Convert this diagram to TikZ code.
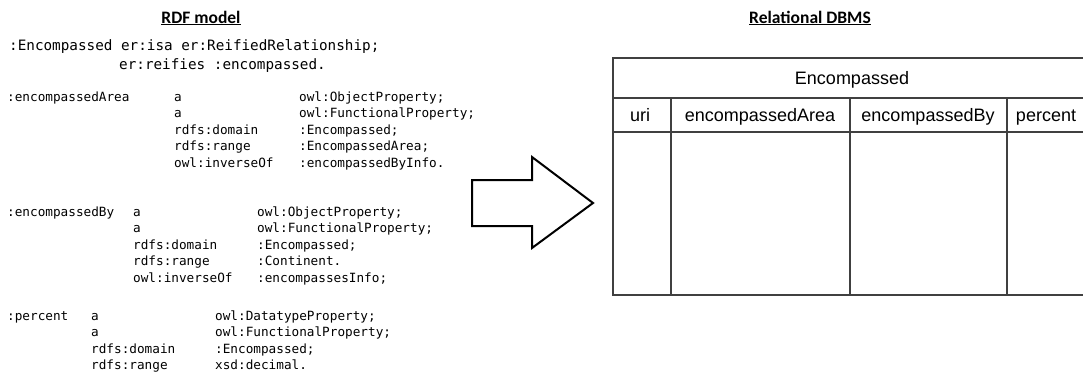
\documentclass[tikz,border=0pt]{standalone}
\usepackage{fontspec}
\setmainfont{Liberation Sans}
\newfontfamily\codefont{DejaVu Sans Mono}
\newfontfamily\headfont{Carlito}
\begin{document}
\begin{tikzpicture}[x=1pt,y=1pt]
\tikzstyle{every node}+=[inner sep=0pt]
\tikzstyle{heading}=[anchor=base, font=\headfont\bfseries\fontsize{17.5}{20}\selectfont]
\tikzstyle{code}=[anchor=base west, font=\codefont\fontsize{12.7}{15}\selectfont]
\tikzstyle{bigcode}=[anchor=base west, font=\codefont\fontsize{14.3}{17}\selectfont]
\tikzstyle{cell}=[anchor=base, font=\fontsize{18}{20}\selectfont]
\tikzstyle{grid}=[draw=black!75, line width=1.3pt]
\useasboundingbox (0,0) rectangle (1083,-372);
\node [heading] (rdfhead) at (201,-23) {\underline{RDF model}};
\node [heading] (dbhead) at (810,-23) {\underline{Relational DBMS}};
\node [bigcode] (reified) at (9,-50) {:Encompassed er:isa er:ReifiedRelationship;};
\node [bigcode] (reifies) at (119,-69) {er:reifies :encompassed.};
\node [code] (area) at (7,-101) {:encompassedArea};
\foreach \p/\o [count=\i] in {a/owl:ObjectProperty;, a/owl:FunctionalProperty;, rdfs:domain/:Encompassed;, rdfs:range/:EncompassedArea;, owl:inverseOf/:encompassedByInfo.}
{
\node [code] (areap\i) at (174,{-101-16.5*(\i-1)}) {\p};
\node [code] (areao\i) at (299,{-101-16.5*(\i-1)}) {\o};
}
\node [code] (by) at (7,-216) {:encompassedBy};
\foreach \p/\o [count=\i] in {a/owl:ObjectProperty;, a/owl:FunctionalProperty;, rdfs:domain/:Encompassed;, rdfs:range/:Continent., owl:inverseOf/:encompassesInfo;}
{
\node [code] (byp\i) at (133,{-216-16.5*(\i-1)}) {\p};
\node [code] (byo\i) at (257,{-216-16.5*(\i-1)}) {\o};
}
\node [code] (pct) at (7,-320) {:percent};
\foreach \p/\o [count=\i] in {a/owl:DatatypeProperty;, a/owl:FunctionalProperty;, rdfs:domain/:Encompassed;, rdfs:range/xsd:decimal.}
{
\node [code] (pctp\i) at (91,{-320-16.5*(\i-1)}) {\p};
\node [code] (pcto\i) at (215,{-320-16.5*(\i-1)}) {\o};
}
\draw [black, line width=2pt, line join=miter] (472,-180) -- (532,-180) -- (532,-157) -- (593,-203) -- (532,-248) -- (532,-226) -- (472,-226) -- cycle;
\draw [grid] (1090,-58) -- (613,-58) -- (613,-295) -- (1090,-295);
\draw [grid] (613,-98) -- (1090,-98);
\draw [grid] (613,-132) -- (1090,-132);
\draw [grid] (671,-98) -- (671,-295);
\draw [grid] (850,-98) -- (850,-295);
\draw [grid] (1007,-98) -- (1007,-295);
\node [cell] (enctitle) at (852,-84) {Encompassed};
\node [cell] (uri) at (640,-121) {uri};
\node [cell] (areacol) at (760,-121) {encompassedArea};
\node [cell] (bycol) at (928,-121) {encompassedBy};
\node [cell] (pctcol) at (1046,-121) {percent};
\end{tikzpicture}
\end{document}
